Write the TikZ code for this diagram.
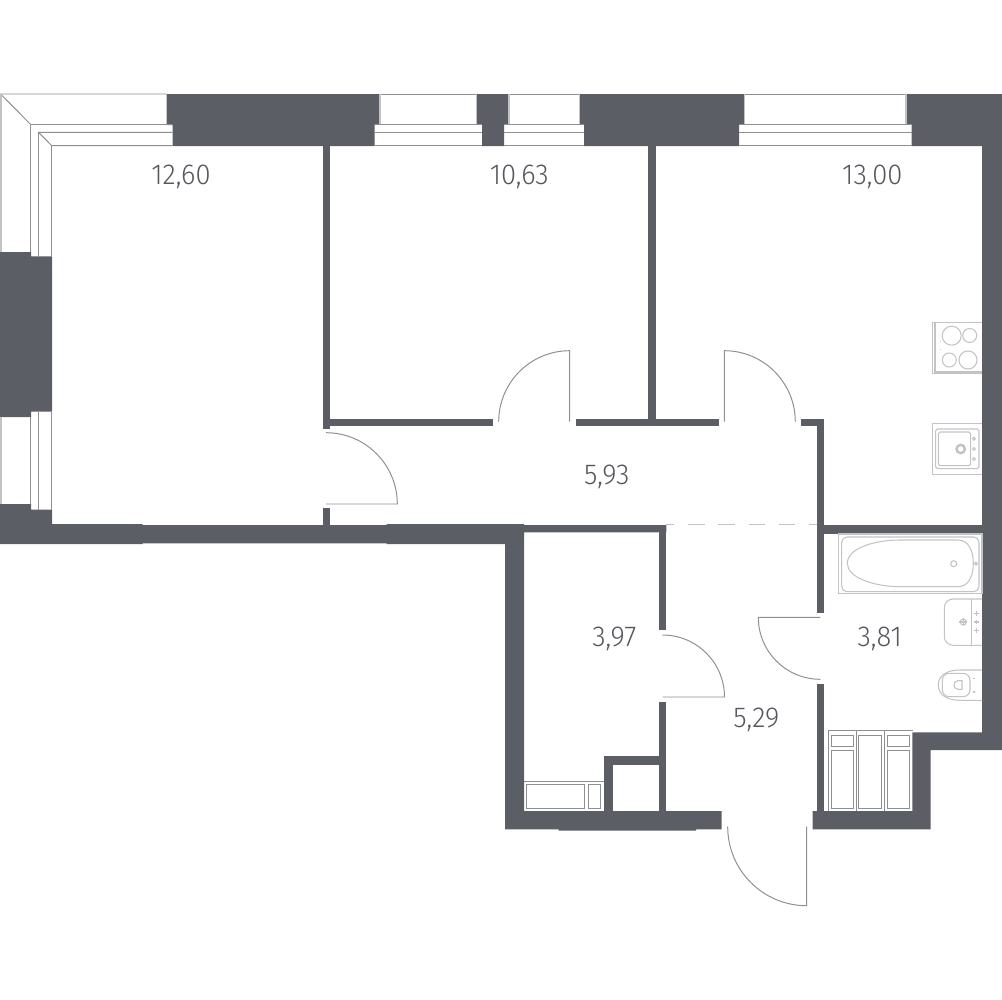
\documentclass[tikz,border=0pt]{standalone}
\usepackage{fontspec}
\newfontfamily\roomfont[FakeStretch=0.95]{Fira Sans Light}
\definecolor{wallgrey}{HTML}{5C5E66}
\definecolor{linegrey}{HTML}{8E8F94}
\definecolor{fixgrey}{HTML}{C2C3C7}
\definecolor{textgrey}{HTML}{55575E}

\begin{document}
\begin{tikzpicture}[x=0.01cm,y=-0.01cm,
  wall/.style={fill=wallgrey},
  thin line/.style={draw=linegrey,line width=0.28pt},
  door/.style={draw=linegrey,line width=0.28pt},
  fixture/.style={draw=fixgrey,line width=0.3pt},
  room/.style={anchor=base,text=textgrey,inner sep=0pt,font=\roomfont\fontsize{8.2pt}{9pt}\selectfont}]
\useasboundingbox (0,0) rectangle (1002,1000);
% outer walls
  \fill[wall] (166.7,94) -- (380,94) -- (380,124.5) -- (374.7,124.5) -- (374.7,146) -- (172.7,146) -- (172.7,125) -- (166.7,125) -- cycle;
  \fill[wall] (476.7,94) -- (509,94) -- (509,124.5) -- (504,124.5) -- (504,146) -- (482,146) -- (482,124.5) -- (476.7,124.5) -- cycle;
  \fill[wall] (579.3,94) -- (744.3,94) -- (744.3,124.5) -- (739,124.5) -- (739,146) -- (584,146) -- (584,124.5) -- (579.3,124.5) -- cycle;
  \fill[wall] (906,94) -- (1002,94) -- (1002,750) -- (930.7,750) -- (930.7,829.3) -- (812.7,829.3) -- (812.7,811) -- (912.3,811) -- (912.3,732.3) -- (982,732.3) -- (982,146) -- (911.5,146) -- (911.5,124.5) -- (906,124.5) -- cycle;
  \fill[wall] (0,252) -- (31,252) -- (31,256.3) -- (52,256.3) -- (52,411.7) -- (31,411.7) -- (31,417) -- (0,417) -- cycle;
  \fill[wall] (0,504) -- (31,504) -- (31,509.5) -- (52,509.5) -- (52,524) -- (142.7,524) -- (142.7,525) -- (386.7,525) -- (386.7,524) -- (524,524) -- (524,525) -- (666.3,525) -- (666.3,532.3) -- (524,532.3) -- (524,811) -- (721.7,811) -- (721.7,829.3) -- (696,829.3) -- (696,830.5) -- (558.7,830.5) -- (558.7,829.3) -- (505,829.3) -- (505,544) -- (386.7,544) -- (386.7,543.3) -- (142.7,543.3) -- (142.7,544) -- (0,544) -- cycle;
% partitions
  \fill[wall] (322.7,146) rectangle (329.7,429);
  \fill[wall] (322.7,508) rectangle (329.7,525);
  \fill[wall] (329.7,418.5) rectangle (493.3,425.7);
  \fill[wall] (576,418.7) rectangle (718.7,425.7);
  \fill[wall] (647.7,146) rectangle (655.7,419);
  \fill[wall] (801,418.7) rectangle (824,425.7);
  \fill[wall] (817.3,419) rectangle (824,613.3);
  \fill[wall] (817.3,684) rectangle (824,811);
  \fill[wall] (824,525) rectangle (982,533.7);
  \fill[wall] (658.5,532) rectangle (666.3,630);
  \fill[wall] (658.5,702) rectangle (666.3,811);
  \fill[wall] (604.3,756) rectangle (658.5,765.3);
  \fill[wall] (604.3,765) rectangle (613.3,811);
% windows
  \foreach \xa/\xb/\xc/\xd in {380/476.7/374.7/482,509/579.3/504/584,744.3/906/739/911.5}{
    \draw[thin line] (\xa,94) -- (\xb,94);
    \draw[fixture] (\xa,94) -- (\xa,124.5) (\xb,94) -- (\xb,124.5);
    \draw[thin line] (\xc,124.5) -- (\xd,124.5) (\xc,132.3) -- (\xd,132.3) (\xc,145.7) -- (\xd,145.7);
  }
  \draw[thin line] (166.7,94) -- (0.5,94) -- (30.7,124.5) -- (172.7,124.5);
  \draw[thin line] (172.7,132.3) -- (38.5,132.3) -- (51.7,145.7) -- (172.7,145.7);
  \draw[thin line] (30.7,124.5) -- (30.7,252) (38.5,132.3) -- (38.5,256.3) (51.7,145.7) -- (51.7,256.3);
  \draw[fixture] (1,94) -- (1,252) (1,417) -- (1,504);
  \draw[thin line] (30.7,417) -- (30.7,504) (38.5,411.7) -- (38.5,509.5) (51.7,411.7) -- (51.7,509.5);
% doors
  \draw[door] (326,504) -- (397.3,504) arc[start angle=0,end angle=-90,radius=71.3];
  \draw[door] (569.7,421.7) -- (569.7,350.7) arc[start angle=-90,end angle=-180,radius=71];
  \draw[door] (724.3,421.7) -- (724.3,350.7) arc[start angle=-90,end angle=0,radius=71];
  \draw[door] (662.5,697) -- (724.5,697) arc[start angle=0,end angle=-90,radius=62];
  \draw[door] (820.3,617.3) -- (758.3,617.3) arc[start angle=180,end angle=90,radius=62];
  \draw[door] (806.7,826.7) -- (806.7,905.7) arc[start angle=90,end angle=180,radius=79];
  \draw[draw=fixgrey,line width=0.4pt,dash pattern=on 4.7pt off 3.9pt,dash phase=2.4pt] (666.3,524.3) -- (817.3,524.3);
% hob
  \draw[fixture] (982,322.3) -- (932.3,322.3) -- (932.3,373.3) -- (982,373.3);
  \draw[fixture] (982,322.3) -- (935,322.3) -- (935,372) -- (982,372);
  \foreach \cx/\cy/\cr in {951.7/335.7/9.5,969.7/335.5/7,949.3/360/7,968/360/9}{
    \draw[fixture] (\cx,\cy) circle[radius=\cr];
  }
  \draw[fixture,dotted] (940.5,341) -- (940.5,354);
% sink
  \draw[fixture] (982,423.3) -- (932.3,423.3) -- (932.3,474.3) -- (982,474.3);
  \draw[fixture,rounded corners=0.5pt] (935.7,429) rectangle (979,468.7);
  \draw[fixture,rounded corners=0.5pt] (938.3,432) rectangle (970.7,465.7);
  \draw[fixture,line width=0.7pt] (960.7,449) circle[radius=4.2];
  \foreach \cy in {438.7,449,459}{
    \draw[fixture] (974,\cy) circle[radius=1.5];
  }
% bath
  \draw[fixture] (838.3,534) rectangle (982,593.7);
  \draw[fixture,rounded corners=1.5pt] (841.7,537) rectangle (979,591.7);
  \draw[fixture] (847.3,563.3) .. controls (847.3,548) and (875,540) .. (900,540) -- (958,540) .. controls (968,540) and (973.3,550) .. (973.3,563.3) .. controls (973.3,577) and (968,586.7) .. (958,586.7) -- (900,586.7) .. controls (875,586.7) and (847.3,578) .. (847.3,563.3) -- cycle;
  \draw[fixture] (953.7,563.7) circle[radius=3];
  \draw[fixture] (976,563.7) circle[radius=1.5];
% basin
  \draw[fixture,rounded corners=2.5pt] (982,599) -- (944.3,599) -- (944.3,645.3) -- (982,645.3);
  \draw[fixture] (971.7,599) -- (971.7,645.3);
  \draw[fixture] (963.3,622) circle[radius=3];
  \draw[fixture] (959.3,622) -- (967.3,622) (963.3,618) -- (963.3,626);
  \foreach \cy in {613.7,622,630.7}{
    \draw[fixture] (974,\cy) -- (978.6,\cy) (976.3,\cy-2.3) -- (976.3,\cy+2.3);
  }
% toilet
  \draw[fixture] (982,670) -- (960,670) .. controls (946,670) and (938.3,676) .. (938.3,685) .. controls (938.3,694) and (946,700.3) .. (960,700.3) -- (982,700.3);
  \draw[fixture,rounded corners=2pt] (942.3,673.3) rectangle (970,696.7);
  \draw[fixture] (962,680.7) -- (958,680.7) .. controls (955,681) and (954,683) .. (954,685) .. controls (954,687) and (955,689) .. (958,689.3) -- (962,689.3) -- cycle;
  \draw[fixture] (974,677.5) -- (974,679) (974,691) -- (974,692.5);
% wardrobe
  \draw[thin line] (828.3,811) -- (828.3,730.7) -- (912.7,730.7);
  \draw[thin line] (856.7,730.7) -- (856.7,811) (884.3,730.7) -- (884.3,811);
  \foreach \xa/\xb in {831/853.7,887/909.7}{
    \draw[thin line] (\xa,735) rectangle (\xb,746.7);
    \draw[thin line] (\xa,750.3) rectangle (\xb,808.3);
  }
  \draw[thin line] (858.7,735) rectangle (881.7,808.3);
% closet
  \draw[thin line] (524,781) -- (604.3,781);
  \draw[thin line] (526.3,784) rectangle (584.7,808.3);
  \draw[thin line] (588,784) rectangle (600,808.3);
% areas
  \node[room] (bedroomA) at (181,185) {12,60};
  \node[room] (bedroomB) at (519.3,185) {10,63};
  \node[room] (kitchen) at (872.3,185) {13,00};
  \node[room] (corridor) at (606.7,485) {5,93};
  \node[room] (storage) at (614.3,646.7) {3,97};
  \node[room] (bathroom) at (879.7,646.7) {3,81};
  \node[room] (hall) at (756.3,727.3) {5,29};
\end{tikzpicture}
\end{document}
